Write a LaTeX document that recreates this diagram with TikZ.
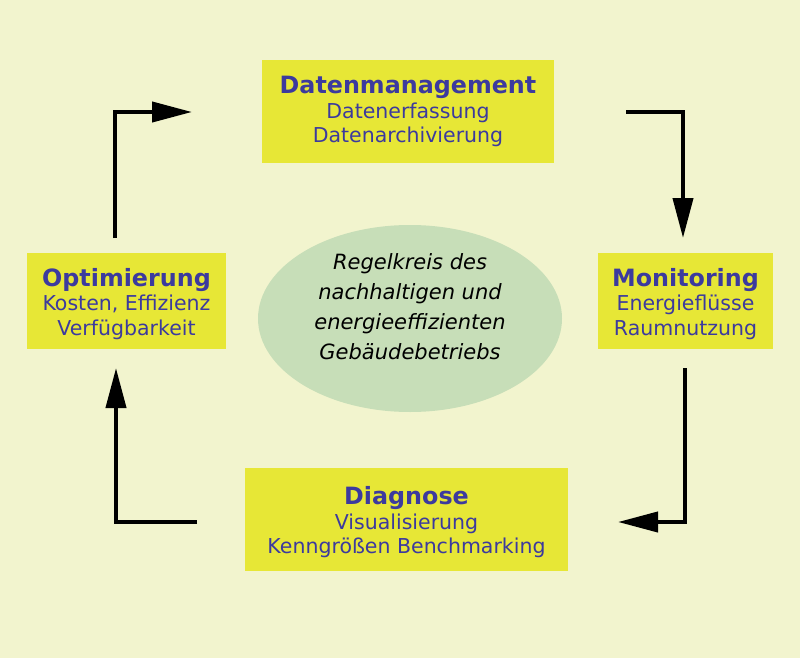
\documentclass[tikz,border=0pt]{standalone}
\usepackage{fontspec}
\setmainfont{DejaVu Sans}
\usetikzlibrary{arrows.meta, positioning, shapes.geometric}
\definecolor{paper}{HTML}{F2F4CE}
\definecolor{boxyellow}{HTML}{E7E736}
\definecolor{inkblue}{HTML}{3C3A9E}
\definecolor{sage}{HTML}{C7DEB8}
\tikzset{
  taskbox/.style = {fill = boxyellow, text = inkblue, align = center, inner sep = 0pt, font = \fontsize{20.5}{24.5}\selectfont},
  loopline/.style = {line width = 4pt, -{Triangle[length = 40pt, width = 20pt]}},
}
\newcommand{\headline}[1]{{\fontsize{23.8}{24.5}\selectfont\bfseries #1}}
\newcommand{\lowhead}[1]{\rule{0pt}{24pt}\headline{#1}}
\begin{document}
\begin{tikzpicture}[x = 1pt, y = -1pt]
	\fill[paper] (0,0) rectangle (800,658);
	\useasboundingbox (0,0) rectangle (800,658);
	% boxes of the cycle
	\node[taskbox, minimum width = 292pt, minimum height = 103pt] (dm) at (408,111.5) {\headline{Datenmanagement}\\ Datenerfassung\\ Datenarchivierung};
	\node[taskbox, minimum width = 175pt, minimum height = 96pt] (mon) at (685.5,301) {\lowhead{Monitoring}\\ Energieflüsse\\ Raumnutzung};
	\node[taskbox, minimum width = 323pt, minimum height = 103pt] (diag) at (406.5,519.5) {\lowhead{Diagnose}\\ Visualisierung\\ Kenngrößen Benchmarking};
	\node[taskbox, minimum width = 199pt, minimum height = 96pt] (opt) at (126.5,301) {\lowhead{Optimierung}\\ Kosten, Effizienz\\ Verfügbarkeit};
	\node[ellipse, fill = sage, minimum width = 304pt, minimum height = 187pt, inner sep = 0pt] (core) at (410,318.5) {};
	\node[align = center, inner sep = 0pt, font = \fontsize{21}{30}\selectfont\itshape] (coretext) at (410,307) {Regelkreis des\\ nachhaltigen und\\ energieeffizienten\\ Gebäudebetriebs};
	% ends of the arrows
	\coordinate (a1) at (115,238);
	\coordinate (b1) at (192,112);
	\coordinate (a2) at (626,112);
	\coordinate (b2) at (683,238);
	\coordinate (a3) at (685,368);
	\coordinate (b3) at (618,522);
	\coordinate (a4) at (197,522);
	\coordinate (b4) at (116,368);
	\draw[loopline] (a1) |- (b1);
	\draw[loopline] (a2) -| (b2);
	\draw[loopline] (a3) |- (b3);
	\draw[loopline] (a4) -| (b4);
\end{tikzpicture}
\end{document}
